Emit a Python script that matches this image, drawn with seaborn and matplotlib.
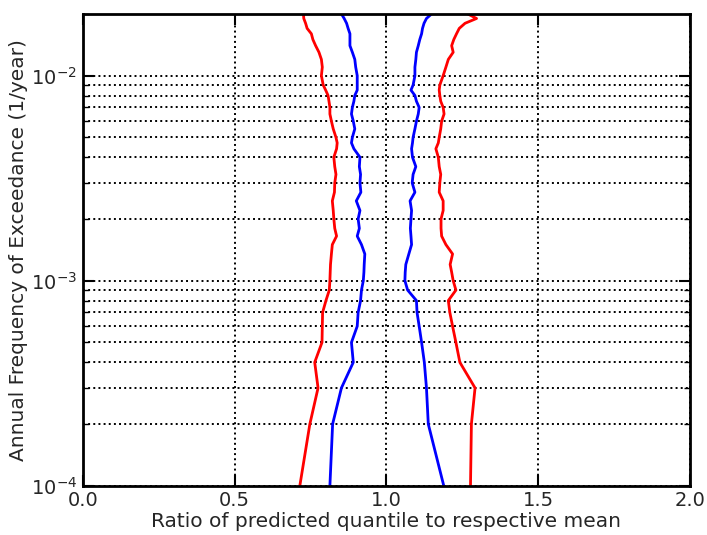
import pandas as pd
import seaborn as sns
import matplotlib.pyplot as plt

# annual frequency of exceedance (1/year)
freq = [1.0e-4, 2.0e-4, 3.0e-4, 4.0e-4, 5.0e-4, 6.0e-4, 7.0e-4, 8.0e-4, 9.0e-4,
        1.0e-3, 1.1e-3, 1.2e-3, 1.35e-3, 1.5e-3, 1.65e-3, 1.8e-3, 2.0e-3, 2.2e-3,
        2.45e-3, 2.7e-3, 3.0e-3, 3.3e-3, 3.6e-3, 4.0e-3, 4.4e-3, 4.7e-3, 5.0e-3,
        5.5e-3, 6.0e-3, 6.5e-3, 7.0e-3, 7.5e-3, 8.0e-3, 8.5e-3, 9.0e-3, 1.0e-2,
        1.1e-2, 1.2e-2, 1.3e-2, 1.4e-2, 1.5e-2, 1.6e-2, 1.7e-2, 1.8e-2, 1.9e-2, 2.0e-2]

# ratio of predicted quantile to mean
red_low = [0.715, 0.748, 0.775, 0.764, 0.788, 0.789, 0.790, 0.801, 0.812,
           0.814, 0.815, 0.816, 0.819, 0.822, 0.836, 0.830, 0.827, 0.825,
           0.822, 0.829, 0.830, 0.834, 0.830, 0.827, 0.836, 0.838, 0.834,
           0.825, 0.819, 0.814, 0.814, 0.811, 0.808, 0.800, 0.792, 0.786,
           0.789, 0.786, 0.778, 0.767, 0.758, 0.753, 0.739, 0.734, 0.728, 0.727]
blue_low = [0.814, 0.823, 0.852, 0.891, 0.885, 0.904, 0.907, 0.915, 0.918,
            0.924, 0.926, 0.927, 0.929, 0.918, 0.904, 0.911, 0.907, 0.913,
            0.901, 0.916, 0.913, 0.915, 0.911, 0.913, 0.893, 0.885, 0.888,
            0.896, 0.891, 0.885, 0.888, 0.893, 0.896, 0.904, 0.904, 0.904,
            0.899, 0.896, 0.888, 0.880, 0.880, 0.880, 0.874, 0.869, 0.861, 0.852]
blue_high = [1.189, 1.138, 1.132, 1.125, 1.116, 1.108, 1.101, 1.099, 1.070,
             1.061, 1.062, 1.064, 1.074, 1.083, 1.081, 1.079, 1.081, 1.083,
             1.078, 1.094, 1.085, 1.088, 1.097, 1.086, 1.083, 1.086, 1.088,
             1.094, 1.099, 1.105, 1.108, 1.099, 1.094, 1.081, 1.088, 1.094,
             1.094, 1.097, 1.099, 1.105, 1.110, 1.116, 1.119, 1.124, 1.132, 1.149]
red_high = [1.277, 1.280, 1.292, 1.242, 1.229, 1.218, 1.209, 1.204, 1.229,
            1.220, 1.215, 1.210, 1.218, 1.196, 1.182, 1.180, 1.180, 1.187,
            1.187, 1.174, 1.176, 1.179, 1.174, 1.171, 1.163, 1.171, 1.174,
            1.179, 1.182, 1.190, 1.187, 1.179, 1.176, 1.174, 1.176, 1.187,
            1.196, 1.204, 1.220, 1.215, 1.222, 1.231, 1.240, 1.259, 1.297, 1.268]

curves = {'red_low': red_low, 'blue_low': blue_low,
          'blue_high': blue_high, 'red_high': red_high}
colors = {'red_low': 'red', 'blue_low': 'blue', 'blue_high': 'blue', 'red_high': 'red'}

df = pd.concat([pd.DataFrame({'freq': freq, 'ratio': vals, 'curve': name})
                for name, vals in curves.items()], ignore_index=True)

sns.set_style("ticks")
plt.rcParams['font.family'] = ['DejaVu Sans']
plt.rcParams['mathtext.default'] = 'regular'

fig, ax = plt.subplots(figsize=(7.07, 5.35), dpi=100)
fig.subplots_adjust(left=0.117, right=0.976, bottom=0.092, top=0.974)

sns.lineplot(data=df, x='ratio', y='freq', hue='curve', palette=colors,
             sort=False, estimator=None, lw=2, legend=False, ax=ax)

ax.set_yscale('log')
ax.set_xlim(0, 2)
ax.set_ylim(1e-4, 2e-2)
ax.set_xticks([0, 0.5, 1.0, 1.5, 2.0])
ax.xaxis.set_major_formatter('{x:.1f}')

ax.grid(True, which='major', axis='x', ls=':', color='k', lw=1.4)
ax.grid(True, which='both', axis='y', ls=':', color='k', lw=1.4)

ax.tick_params(which='both', direction='in', top=True, right=True,
               labelsize=14, colors='black', labelcolor='.15', pad=4)
ax.tick_params(which='major', length=8, width=1.5)
ax.tick_params(which='minor', length=4, width=1)
for s in ax.spines.values():
    s.set_linewidth(2)
    s.set_color('black')

ax.set_xlabel('Ratio of predicted quantile to respective mean', fontsize=14.5, labelpad=1)
ax.set_ylabel('Annual Frequency of Exceedance (1/year)', fontsize=14.5, labelpad=2)

fig.savefig('out.png', dpi=100)
